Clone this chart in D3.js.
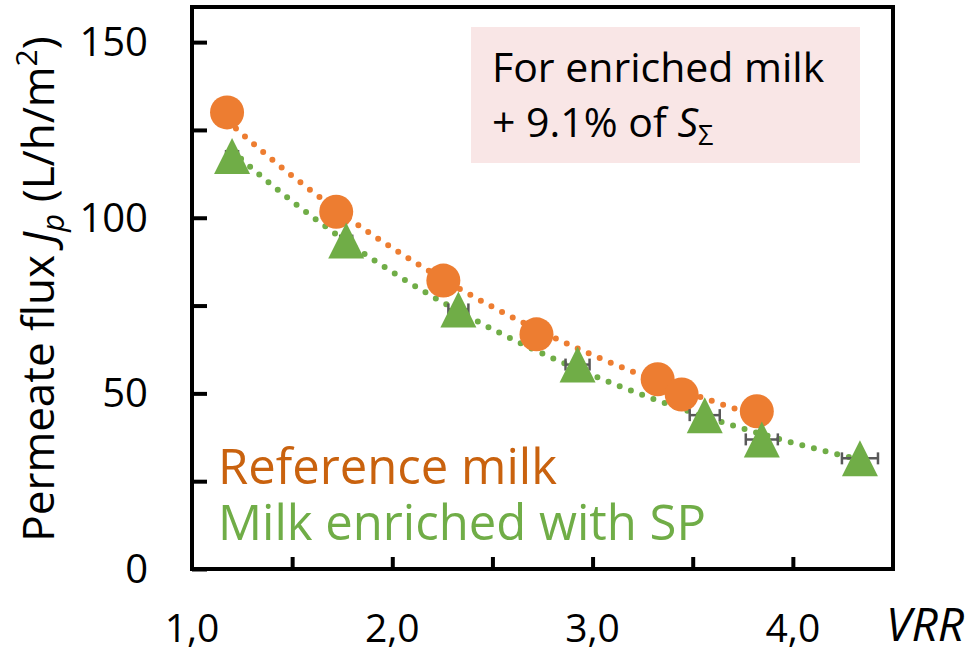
<!DOCTYPE html>
<html>
<head>
<meta charset="utf-8">
<script src="https://cdn.jsdelivr.net/npm/d3@7"></script>
<style>
  body { margin: 0; background: #fff; }
  text { font-family: "Open Sans", sans-serif; }
</style>
</head>
<body>
<div id="chart"></div>
<script>
// Reference milk (orange circles)
const refVRR  = [1.175, 1.72, 2.255, 2.72, 3.325, 3.445, 3.82];
const refFlux = [130, 101.7, 82.1, 66.8, 54.0, 49.7, 44.9];

// Milk enriched with SP (green triangles), with horizontal error on VRR
const spVRR  = [1.20, 1.77, 2.33, 2.925, 3.56, 3.845, 4.335];
const spFlux = [117.6, 93.5, 73.9, 58.2, 43.8, 36.9, 31.5];
const spErr  = [0.03, 0.03, 0.05, 0.06, 0.075, 0.08, 0.09];

const xTickLabels = [1.0, 2.0, 3.0, 4.0];
const yTickLabels = [0, 50, 100, 150];

function init() {
    const w = 972;
    const h = 654;
    const left = 192, right = 893, top = 7, bottom = 569;

    const svg = d3.select("#chart")
        .append("svg")
        .attr("width", w)
        .attr("height", h);

    const xScale = d3.scaleLinear().domain([1, 4.5]).range([left, right]);
    const yScale = d3.scaleLinear().domain([0, 160]).range([bottom, top]);

    // Annotation box
    svg.append("rect")
        .attr("x", 471).attr("y", 27)
        .attr("width", 389).attr("height", 136)
        .attr("fill", "#f9e6e6");

    const note = svg.append("g").attr("font-size", 41).attr("fill", "#000");
    note.append("text").attr("x", 492).attr("y", 82).text("For enriched milk");
    const l2 = note.append("text").attr("x", 492).attr("y", 137);
    l2.append("tspan").text("+ 9.1% of ");
    l2.append("tspan").attr("font-style", "italic").text("S");
    l2.append("tspan").attr("font-size", 27).attr("dy", 8).text("Σ");

    // Exponential trendlines fitted to each series
    function expFit(xs, ys) {
        const ly = ys.map(Math.log);
        const mx = d3.mean(xs), my = d3.mean(ly);
        const b = d3.sum(xs, (v, i) => (v - mx) * (ly[i] - my)) / d3.sum(xs, v => (v - mx) ** 2);
        const a = Math.exp(my - b * mx);
        const [x0, x1] = d3.extent(xs);
        return d3.range(0, 101).map(i => {
            const x = x0 + (x1 - x0) * i / 100;
            return [x, a * Math.exp(b * x)];
        });
    }

    const line = d3.line().x(d => xScale(d[0])).y(d => yScale(d[1]));

    svg.append("path")
        .datum(expFit(refVRR, refFlux))
        .attr("fill", "none").attr("stroke", "#ed7d31")
        .attr("stroke-width", 6).attr("stroke-linecap", "round")
        .attr("stroke-dasharray", "0 12")
        .attr("d", line);

    svg.append("path")
        .datum(expFit(spVRR, spFlux))
        .attr("fill", "none").attr("stroke", "#70ad47")
        .attr("stroke-width", 6).attr("stroke-linecap", "round")
        .attr("stroke-dasharray", "0 12")
        .attr("d", line);

    // Orange circles
    svg.selectAll("circle.ref")
        .data(refVRR)
        .enter().append("circle")
        .attr("class", "ref")
        .attr("cx", d => xScale(d))
        .attr("cy", (d, i) => yScale(refFlux[i]))
        .attr("r", 17)
        .attr("fill", "#ed7d31");

    // Horizontal error bars
    const eb = svg.append("g").attr("stroke", "#595959").attr("stroke-width", 2.5);
    spVRR.forEach((v, i) => {
        const y = yScale(spFlux[i]);
        const x0 = xScale(v - spErr[i]), x1 = xScale(v + spErr[i]);
        eb.append("line").attr("x1", x0).attr("x2", x1).attr("y1", y).attr("y2", y);
        eb.append("line").attr("x1", x0).attr("x2", x0).attr("y1", y - 6).attr("y2", y + 6);
        eb.append("line").attr("x1", x1).attr("x2", x1).attr("y1", y - 6).attr("y2", y + 6);
    });

    // Green triangles (36 wide, 36 tall)
    const tri = "M0,-18L18,18L-18,18Z";
    svg.selectAll("path.sp")
        .data(spVRR)
        .enter().append("path")
        .attr("class", "sp")
        .attr("d", tri)
        .attr("transform", (d, i) => `translate(${xScale(d)},${yScale(spFlux[i])})`)
        .attr("fill", "#70ad47");

    // Frame
    svg.append("rect")
        .attr("x", left).attr("y", top)
        .attr("width", right - left).attr("height", bottom - top)
        .attr("fill", "none").attr("stroke", "#000").attr("stroke-width", 4);

    // Inward ticks
    const yAxis = d3.axisRight(yScale).tickValues(d3.range(0, 151, 25)).tickSize(15).tickFormat("");
    svg.append("g").attr("transform", `translate(${left},0)`).call(yAxis)
        .call(g => g.select(".domain").remove())
        .call(g => g.selectAll("line").attr("stroke-width", 4));

    const xAxis = d3.axisTop(xScale).tickValues(d3.range(1.5, 4.01, 0.5)).tickSize(12).tickFormat("");
    svg.append("g").attr("transform", `translate(0,${bottom})`).call(xAxis)
        .call(g => g.select(".domain").remove())
        .call(g => g.selectAll("line").attr("stroke-width", 4));

    // Tick labels
    svg.append("g").selectAll("text")
        .data(yTickLabels).enter().append("text")
        .attr("x", 148).attr("y", d => yScale(d) + 14)
        .attr("text-anchor", "end").attr("font-size", 40)
        .text(d => d);

    svg.append("g").selectAll("text")
        .data(xTickLabels).enter().append("text")
        .attr("x", d => xScale(d)).attr("y", 642)
        .attr("text-anchor", "middle").attr("font-size", 39)
        .text(d => d3.format(".1f")(d).replace(".", ","));

    svg.append("text")
        .attr("x", 964).attr("y", 641)
        .attr("text-anchor", "end").attr("font-size", 46)
        .attr("font-style", "italic")
        .text("VRR");

    // Y axis title
    const yt = svg.append("text")
        .attr("transform", "translate(54,289) rotate(-90)")
        .attr("text-anchor", "middle").attr("font-size", 44);
    yt.append("tspan").text("Permeate flux ");
    yt.append("tspan").attr("font-style", "italic").text("J");
    yt.append("tspan").attr("font-style", "italic").attr("font-size", 31).attr("dy", 10).text("p");
    yt.append("tspan").attr("dy", -10).text(" (L/h/m");
    yt.append("tspan").attr("font-size", 30).attr("dy", -17).text("2");
    yt.append("tspan").attr("dy", 17).text(")");

    // Series labels
    svg.append("text").attr("x", 218).attr("y", 484)
        .attr("font-size", 49).attr("fill", "#c9620e")
        .text("Reference milk");
    svg.append("text").attr("x", 218).attr("y", 540)
        .attr("font-size", 49).attr("fill", "#70ad47")
        .text("Milk enriched with SP");
}

window.onload = init;
</script>
</body>
</html>
